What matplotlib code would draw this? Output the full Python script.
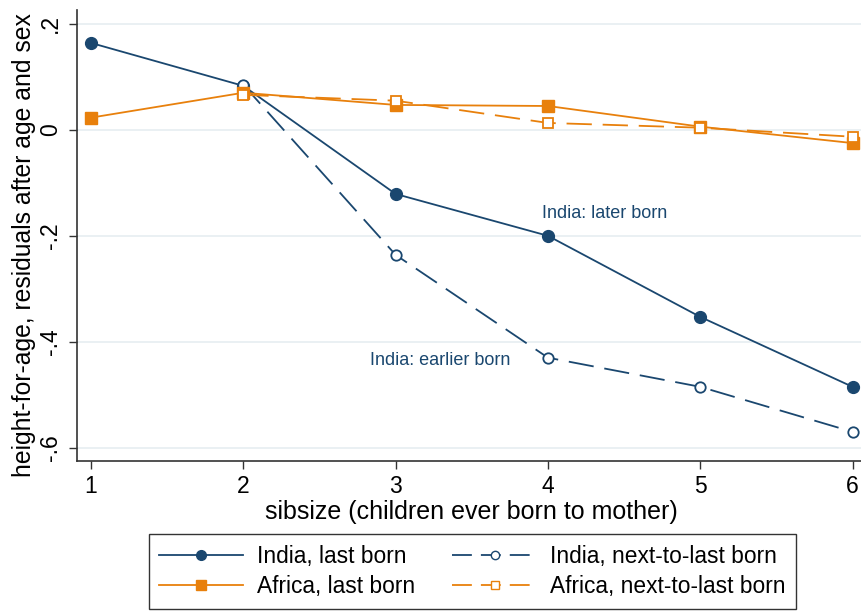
import matplotlib
matplotlib.use("Agg")
import matplotlib.pyplot as plt
from matplotlib.lines import Line2D

plt.rcParams['font.family'] = ['Liberation Sans', 'DejaVu Sans']

sibsize = [1, 2, 3, 4, 5, 6]
sibsize_next = [2, 3, 4, 5, 6]
india_last = [0.164, 0.083, -0.121, -0.200, -0.353, -0.485]
india_next = [0.085, -0.236, -0.430, -0.485, -0.570]
africa_last = [0.023, 0.070, 0.047, 0.045, 0.006, -0.025]
africa_next = [0.066, 0.055, 0.013, 0.004, -0.013]

yticks = [-0.6, -0.4, -0.2, 0, 0.2]
ytick_labels = ["-.6", "-.4", "-.2", "0", ".2"]

NAVY = "#1a476f"
ORANGE = "#e8800c"
GRID = "#e6eef1"
DASH = (14, 6)

fig = plt.figure(figsize=(8.62, 6.11), dpi=100)
ax = fig.add_axes([0.0893, 0.2455, 0.9107, 0.738])

for y in yticks:
    ax.axhline(y, color=GRID, lw=1.2, zorder=0)

lw = 1.3
ax.plot(sibsize, india_last, color=NAVY, lw=lw, marker="o", ms=8.5,
        mfc=NAVY, mec=NAVY, label="India, last born")
ax.plot(sibsize_next, india_next, color=NAVY, lw=lw, dashes=DASH, marker="o", ms=7.5,
        mfc="white", mec=NAVY, mew=1.3, label="India, next-to-last born")
ax.plot(sibsize, africa_last, color=ORANGE, lw=lw, marker="s", ms=8.5,
        mfc=ORANGE, mec=ORANGE, label="Africa, last born")
ax.plot(sibsize_next, africa_next, color=ORANGE, lw=lw, dashes=DASH, marker="s", ms=7.5,
        mfc="white", mec=ORANGE, mew=1.3, label="Africa, next-to-last born")

ax.text(3.96, -0.158, "India: later born", color=NAVY, fontsize=13, va="center", ha="left")
ax.text(2.83, -0.436, "India: earlier born", color=NAVY, fontsize=13, va="center", ha="left")

ax.set_xlim(0.908, 6.062)
ax.set_ylim(-0.625, 0.226)
ax.set_xticks(sibsize)
ax.set_yticks(yticks)
ax.set_yticklabels(ytick_labels, rotation=90, va="center")
ax.tick_params(axis="both", labelsize=16.5, direction="out", length=6, width=1, color="#333333")
ax.tick_params(axis="y", pad=5)
ax.tick_params(axis="x", pad=4)
for s in ["top", "right"]:
    ax.spines[s].set_visible(False)
for s in ["left", "bottom"]:
    ax.spines[s].set_color("#333333")
    ax.spines[s].set_linewidth(1.2)

ax.set_xlabel("sibsize (children ever born to mother)", fontsize=18)
ax.set_ylabel("height-for-age, residuals after age and sex", fontsize=17.8)
ax.xaxis.set_label_coords(0.503, -0.087)
ax.yaxis.set_label_coords(-0.068, 0.479)
ax.yaxis.label.set_va("center")

handles = [
    Line2D([], [], color=NAVY, lw=lw, marker="o", ms=7, mfc=NAVY, mec=NAVY),
    Line2D([], [], color=ORANGE, lw=lw, marker="s", ms=7, mfc=ORANGE, mec=ORANGE),
    Line2D([], [], color=NAVY, lw=lw, dashes=(11, 5), marker="o", ms=6, mfc="white", mec=NAVY),
    Line2D([], [], color=ORANGE, lw=lw, dashes=(11, 5), marker="s", ms=6, mfc="white", mec=ORANGE),
]
labels = ["India, last born", "Africa, last born",
          "India, next-to-last born", "Africa, next-to-last born"]
leg = fig.legend(handles, labels, ncol=2, loc="lower center", bbox_to_anchor=(0.548, 0.004),
                 borderaxespad=0, fontsize=16.4, frameon=True, fancybox=False,
                 edgecolor="black", handlelength=3.7, columnspacing=1.65, borderpad=0.45,
                 labelspacing=0.34, handletextpad=0.6)
leg.get_frame().set_linewidth(1.0)

fig.savefig("out.png", dpi=100)
